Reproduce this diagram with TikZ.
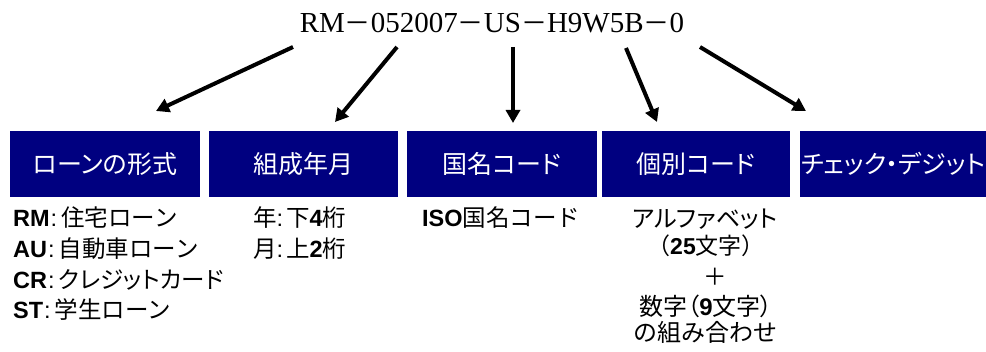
\documentclass[tikz,border=0pt]{standalone}
\usepackage{fontspec}
\setmainfont{Liberation Serif}
\newfontfamily\jpfont[RawFeature=+palt]{Noto Sans CJK JP}
\newfontfamily\jpmono{Noto Sans CJK JP}
\newfontfamily\latfont{Liberation Sans}
\newcommand\LatinPart[1]{{\latfont\bfseries #1}}
\newcommand\KeyColon{\hspace{1pt}{\latfont :}\hspace{4pt}}
\newcommand\UnitColon{{\latfont :}\hspace{3pt}}
\usetikzlibrary{arrows.meta}
\definecolor{boxnavy}{RGB}{0,0,128}
\begin{document}
\begin{tikzpicture}[x=1pt,y=-1pt,
  codebox/.style={fill=boxnavy, text=white, minimum height=66pt, inner sep=0pt,
    text height=22pt, text depth=3pt, font=\jpfont\fontsize{25}{25}\selectfont},
  note/.style={inner sep=0pt, text height=20pt, text depth=3pt,
    font=\jpmono\fontsize{23.5}{23.5}\selectfont},
  notepalt/.style={note, font=\jpfont\fontsize{23.5}{23.5}\selectfont},
  bigarrow/.style={line width=4pt, -{Triangle[length=13pt,width=14pt]}}]
\useasboundingbox (0,0) rectangle (986,352);

% title
\node[anchor=base, inner sep=0pt, font=\fontsize{29}{29}\selectfont] (title) at (492,33)
  {RM{\jpmono\fontsize{26}{26}\selectfont －}052007{\jpmono\fontsize{26}{26}\selectfont －}US{\jpmono\fontsize{26}{26}\selectfont －}H9W5B{\jpmono\fontsize{26}{26}\selectfont －}0};

% boxes
\node[codebox, minimum width=190pt] (b1) at (105,164) {ローンの形式};
\node[codebox, minimum width=189pt] (b2) at (303.5,164) {組成年月};
\node[codebox, minimum width=190pt] (b3) at (502,164) {国名コード};
\node[codebox, minimum width=188pt] (b4) at (696,164) {個別コード};
\node[codebox, minimum width=186pt] (b5) at (893,164) {チェック・デジット};

% arrows
\coordinate (a1s) at (293,47);  \coordinate (a1e) at (156,111);
\coordinate (a2s) at (397,47);  \coordinate (a2e) at (335,122);
\coordinate (a3s) at (513,47);  \coordinate (a3e) at (513,123);
\coordinate (a4s) at (626,48);  \coordinate (a4e) at (657,122);
\coordinate (a5s) at (700,47);  \coordinate (a5e) at (806,111);
\draw[bigarrow] (a1s) -- (a1e);
\draw[bigarrow] (a2s) -- (a2e);
\draw[bigarrow] (a3s) -- (a3e);
\draw[bigarrow] (a4s) -- (a4e);
\draw[bigarrow] (a5s) -- (a5e);

% column 1
\node[note, anchor=west] (rm) at (13,218.5) {\LatinPart{RM}\KeyColon 住宅ローン};
\node[note, anchor=west] (au) at (13,249.5) {\LatinPart{AU}\KeyColon 自動車ローン};
\node[notepalt, anchor=west] (cr) at (13,280) {\LatinPart{CR}\KeyColon クレジットカード};
\node[note, anchor=west] (st) at (13,310) {\LatinPart{ST}\KeyColon 学生ローン};

% column 2
\node[note, anchor=west] (yr) at (253,218.5) {年\UnitColon 下\LatinPart{4}桁};
\node[note, anchor=west] (mo) at (253,249.5) {月\UnitColon 上\LatinPart{2}桁};

% column 3
\node[note, anchor=west] (iso) at (422,218.5) {\LatinPart{ISO}国名コード};

% column 4
\node[notepalt, font=\jpfont\fontsize{24}{24}\selectfont] (c4a) at (705,219) {アルファベット};
\node[note, font=\jpmono\fontsize{23}{23}\selectfont] (c4b) at (706,246) {（\LatinPart{25}文字）};
\node[note] (c4c) at (715,277) {＋};
\node[notepalt, font=\jpfont\fontsize{24}{24}\selectfont] (c4d) at (706,307) {数字（\LatinPart{9}文字）};
\node[note, font=\jpmono\fontsize{24}{24}\selectfont] (c4e) at (705,333) {の組み合わせ};
\end{tikzpicture}
\end{document}
